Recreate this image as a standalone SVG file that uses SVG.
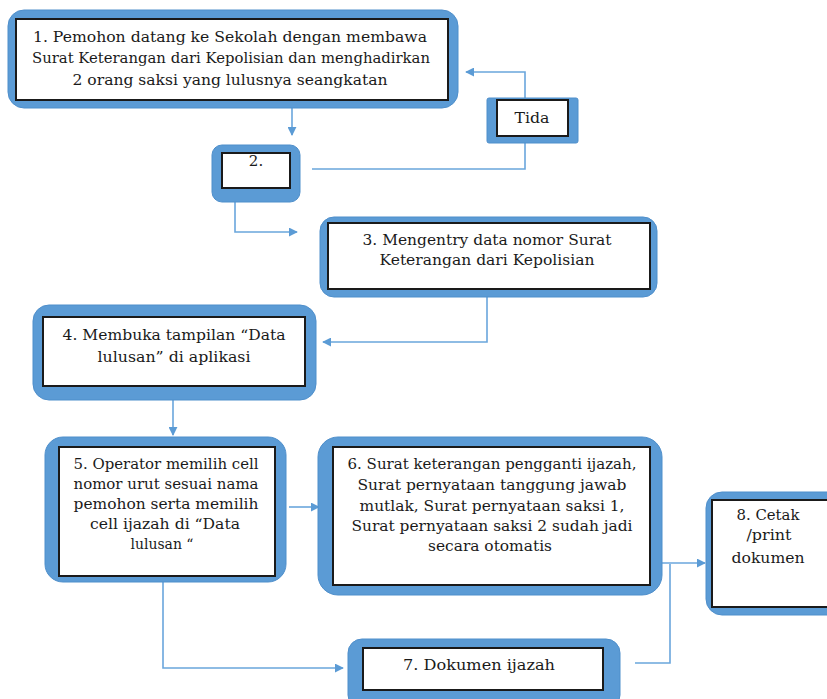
<svg xmlns="http://www.w3.org/2000/svg" width="827" height="699" viewBox="0 0 827 699">
<style>
.outer{fill:#5B9BD5;stroke:#4F8FCB;stroke-width:1}
.inner{fill:#fff;stroke:#1a1a1a;stroke-width:2}
.t{font-family:"DejaVu Serif","Liberation Serif",serif;font-size:15px;fill:#1a1a1a;text-anchor:middle}
.c{fill:none;stroke:#6AA6DC;stroke-width:1.6}
</style>
<defs>
<marker id="ah" viewBox="0 0 10 10" refX="9" refY="5" markerWidth="9" markerHeight="9" markerUnits="userSpaceOnUse" orient="auto">
<path d="M0,0 L10,5 L0,10 z" fill="#5B9BD5"/>
</marker>
</defs>
<rect width="827" height="699" fill="#fff"/>
<g id="connectors">
<path class="c" d="M292,108 V135" marker-end="url(#ah)"/>
<path class="c" d="M312,169 H525 V143"/>
<path class="c" d="M525,98 V72 H466" marker-end="url(#ah)"/>
<path class="c" d="M235,202 V232 H297" marker-end="url(#ah)"/>
<path class="c" d="M487,297 V342 H323" marker-end="url(#ah)"/>
<path class="c" d="M173,400 V435" marker-end="url(#ah)"/>
<path class="c" d="M289,507 H319" marker-end="url(#ah)"/>
<path class="c" d="M662,563 H705" marker-end="url(#ah)"/>
<path class="c" d="M635,663 H670 V564"/>
<path class="c" d="M163,582 V668 H343" marker-end="url(#ah)"/>
</g>
<g id="node1">
<rect class="outer" x="8" y="10" width="450" height="98" rx="16"/>
<rect class="inner" x="16" y="19" width="432" height="81"/>
<text class="t" x="230" y="42" textLength="394" lengthAdjust="spacingAndGlyphs">1. Pemohon datang ke Sekolah dengan membawa</text>
<text class="t" x="231" y="63" textLength="398" lengthAdjust="spacingAndGlyphs">Surat Keterangan dari Kepolisian dan menghadirkan</text>
<text class="t" x="230" y="85" textLength="315" lengthAdjust="spacingAndGlyphs">2 orang saksi yang lulusnya seangkatan</text>
</g>
<g id="node2">
<rect class="outer" x="212" y="145" width="88" height="57" rx="10"/>
<rect class="inner" x="222" y="153" width="68" height="35"/>
<text class="t" x="256" y="166">2.</text>
</g>
<g id="nodeTida">
<rect class="outer" x="487" y="98" width="91" height="45" rx="2"/>
<rect class="inner" x="497" y="100" width="71" height="36"/>
<text class="t" x="532" y="123" textLength="35" lengthAdjust="spacingAndGlyphs">Tida</text>
</g>
<g id="node3">
<rect class="outer" x="320" y="217" width="337" height="80" rx="14"/>
<rect class="inner" x="328" y="223" width="322" height="66"/>
<text class="t" x="487" y="245" textLength="249" lengthAdjust="spacingAndGlyphs">3. Mengentry data nomor Surat</text>
<text class="t" x="487" y="265" textLength="215" lengthAdjust="spacingAndGlyphs">Keterangan dari Kepolisian</text>
</g>
<g id="node4">
<rect class="outer" x="33" y="305" width="283" height="95" rx="16"/>
<rect class="inner" x="43" y="317" width="262" height="69"/>
<text class="t" x="174" y="340" textLength="223" lengthAdjust="spacingAndGlyphs">4. Membuka tampilan “Data</text>
<text class="t" x="174" y="362" textLength="153" lengthAdjust="spacingAndGlyphs">lulusan” di aplikasi</text>
</g>
<g id="node5">
<rect class="outer" x="45" y="437" width="241" height="145" rx="18"/>
<rect class="inner" x="59" y="447" width="216" height="129"/>
<text class="t" x="166" y="469" textLength="185" lengthAdjust="spacingAndGlyphs">5. Operator memilih cell</text>
<text class="t" x="166" y="489" textLength="185" lengthAdjust="spacingAndGlyphs">nomor urut sesuai nama</text>
<text class="t" x="166" y="509" textLength="185" lengthAdjust="spacingAndGlyphs">pemohon serta memilih</text>
<text class="t" x="165" y="529" textLength="150" lengthAdjust="spacingAndGlyphs">cell ijazah di “Data</text>
<text class="t" x="162" y="549" textLength="63" lengthAdjust="spacingAndGlyphs">lulusan “</text>
</g>
<g id="node6">
<rect class="outer" x="318" y="437" width="344" height="158" rx="20"/>
<rect class="inner" x="333" y="447" width="317" height="138"/>
<text class="t" x="492" y="469" textLength="289" lengthAdjust="spacingAndGlyphs">6. Surat keterangan pengganti ijazah,</text>
<text class="t" x="492" y="490" textLength="269" lengthAdjust="spacingAndGlyphs">Surat pernyataan tanggung jawab</text>
<text class="t" x="492" y="511" textLength="265" lengthAdjust="spacingAndGlyphs">mutlak, Surat pernyataan saksi 1,</text>
<text class="t" x="492" y="531" textLength="281" lengthAdjust="spacingAndGlyphs">Surat pernyataan saksi 2 sudah jadi</text>
<text class="t" x="490" y="551" textLength="124" lengthAdjust="spacingAndGlyphs">secara otomatis</text>
</g>
<g id="node8">
<rect class="outer" x="706" y="492" width="140" height="123" rx="16"/>
<rect class="inner" x="712" y="500" width="125" height="107"/>
<text class="t" x="768" y="520" textLength="63" lengthAdjust="spacingAndGlyphs">8. Cetak</text>
<text class="t" x="769" y="540" textLength="45" lengthAdjust="spacingAndGlyphs">/print</text>
<text class="t" x="768" y="563" textLength="73" lengthAdjust="spacingAndGlyphs">dokumen</text>
</g>
<g id="node7">
<rect class="outer" x="348" y="639" width="272" height="70" rx="14"/>
<rect class="inner" x="363" y="648" width="240" height="42"/>
<text class="t" x="479" y="670" textLength="152" lengthAdjust="spacingAndGlyphs">7. Dokumen ijazah</text>
</g>
</svg>
